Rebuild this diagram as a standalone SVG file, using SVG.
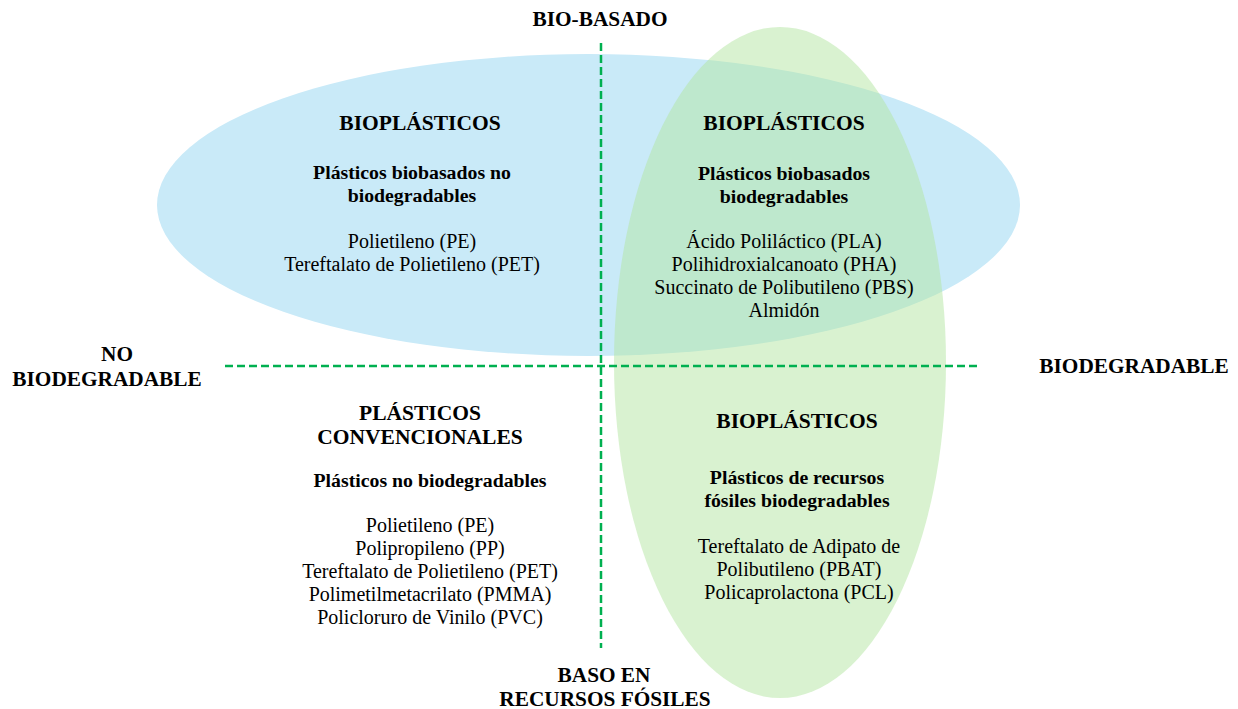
<svg xmlns="http://www.w3.org/2000/svg" width="1238" height="709" viewBox="0 0 1238 709">
<style>
text{font-family:"Liberation Serif","Times New Roman",serif;fill:#000;text-anchor:middle}
.t{font-weight:bold;font-size:21.5px}
.s{font-weight:bold;font-size:19.8px}
.r{font-size:20px}
.ax{font-weight:bold;font-size:21.3px}
.dash{stroke:#00b050;stroke-width:2.5;stroke-dasharray:8 4;fill:none}
</style>
<rect width="1238" height="709" fill="#fff"/>
<g id="shapes">
<ellipse id="blue-ellipse" cx="588.5" cy="205" rx="431.5" ry="151" fill="#c9eaf8"/>
<ellipse id="green-ellipse" cx="780" cy="362.5" rx="166" ry="335.5" fill="#b3e5a1" fill-opacity="0.5"/>
</g>
<g id="connectors">
<line class="dash" x1="601" y1="43" x2="601" y2="648"/>
<line class="dash" x1="225" y1="366" x2="980" y2="366"/>
</g>
<g id="axis-top"><text class="ax" x="600" y="26">BIO-BASADO</text></g>
<g id="axis-left"><text class="ax" x="117" y="361">NO</text><text class="ax" x="107" y="386">BIODEGRADABLE</text></g>
<g id="axis-right"><text class="ax" x="1134" y="373">BIODEGRADABLE</text></g>
<g id="axis-bottom"><text class="ax" x="604" y="682">BASO EN</text><text class="ax" x="605" y="706">RECURSOS FÓSILES</text></g>
<g id="q-top-left">
<text class="t" x="420" y="130">BIOPLÁSTICOS</text>
<text class="s" x="412" y="179">Plásticos biobasados no</text>
<text class="s" x="412" y="202">biodegradables</text>
<text class="r" x="412" y="248">Polietileno (PE)</text>
<text class="r" x="412" y="271">Tereftalato de Polietileno (PET)</text>
</g>
<g id="q-top-right">
<text class="t" x="784" y="130">BIOPLÁSTICOS</text>
<text class="s" x="784" y="180">Plásticos biobasados</text>
<text class="s" x="784" y="203">biodegradables</text>
<text class="r" x="784" y="248">Ácido Poliláctico (PLA)</text>
<text class="r" x="784" y="271">Polihidroxialcanoato (PHA)</text>
<text class="r" x="784" y="294">Succinato de Polibutileno (PBS)</text>
<text class="r" x="784" y="317">Almidón</text>
</g>
<g id="q-bottom-left">
<text class="t" x="420" y="420">PLÁSTICOS</text>
<text class="t" x="420" y="444">CONVENCIONALES</text>
<text class="s" x="430" y="487">Plásticos no biodegradables</text>
<text class="r" x="430" y="532">Polietileno (PE)</text>
<text class="r" x="430" y="555">Polipropileno (PP)</text>
<text class="r" x="430" y="578">Tereftalato de Polietileno (PET)</text>
<text class="r" x="430" y="601">Polimetilmetacrilato (PMMA)</text>
<text class="r" x="430" y="624">Policloruro de Vinilo (PVC)</text>
</g>
<g id="q-bottom-right">
<text class="t" x="797" y="428">BIOPLÁSTICOS</text>
<text class="s" x="797" y="484">Plásticos de recursos</text>
<text class="s" x="797" y="507">fósiles biodegradables</text>
<text class="r" x="799" y="553">Tereftalato de Adipato de</text>
<text class="r" x="799" y="576">Polibutileno (PBAT)</text>
<text class="r" x="799" y="599">Policaprolactona (PCL)</text>
</g>
</svg>
